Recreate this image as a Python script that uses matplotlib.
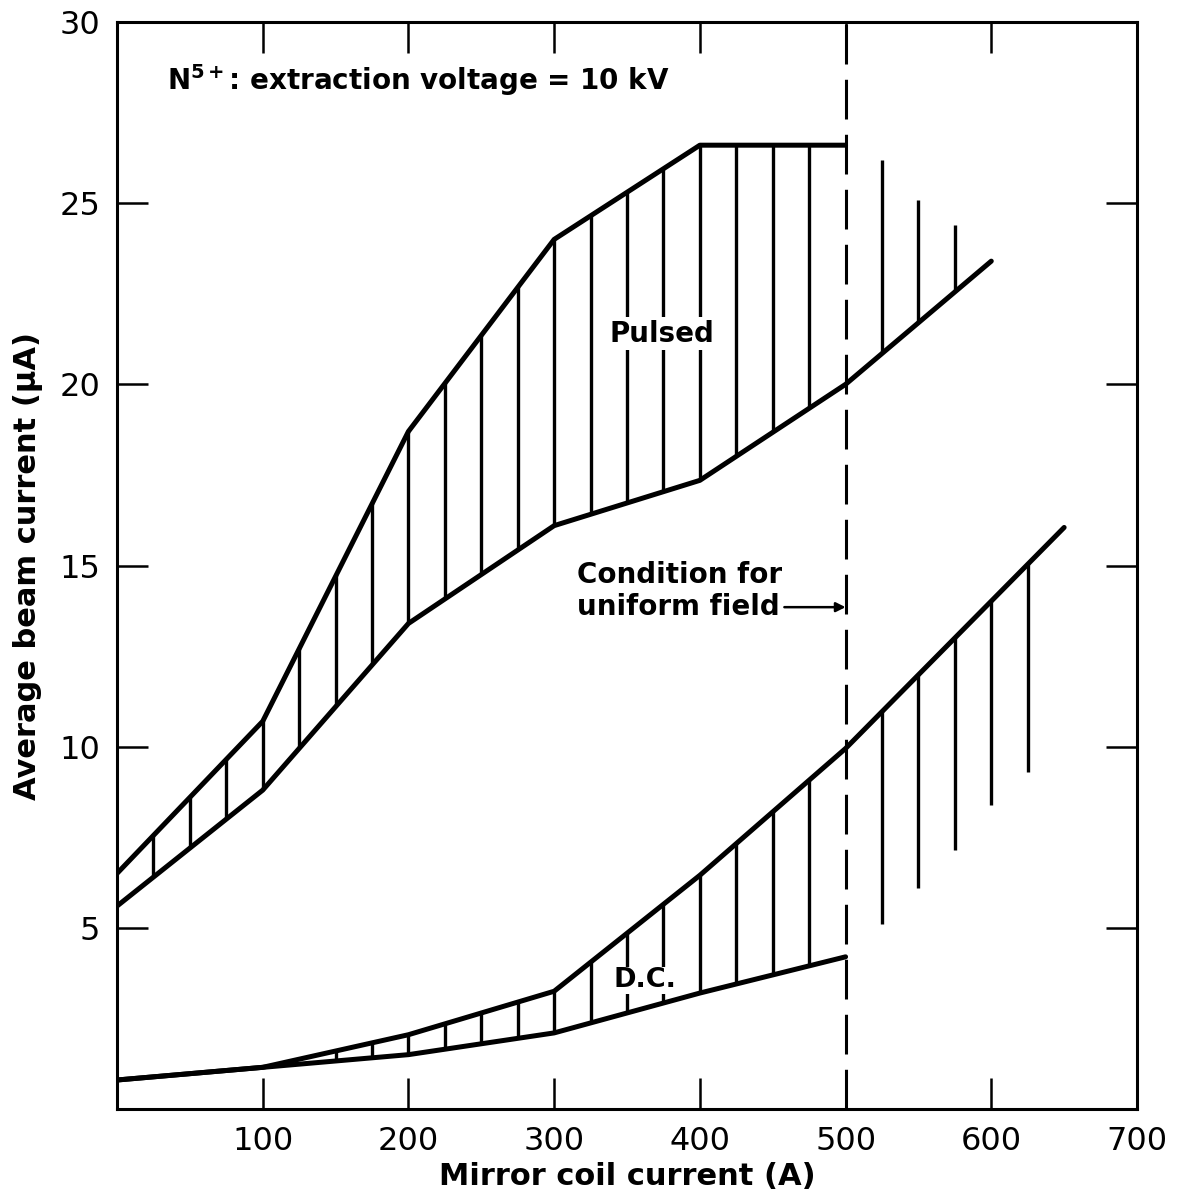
import numpy as np
import matplotlib
matplotlib.use("Agg")
import matplotlib.pyplot as plt
from matplotlib.path import Path
from matplotlib.collections import LineCollection

# ---- data ----
pulsed_upper_x = [0, 100, 200, 300, 400, 500]
pulsed_upper_y = [6.5, 10.7, 18.7, 24.0, 26.6, 26.6]
pulsed_lower_x = [0, 100, 200, 300, 400, 500, 600]
pulsed_lower_y = [5.6, 8.8, 13.4, 16.1, 17.35, 20.0, 23.4]

dc_upper_x = [0, 100, 200, 300, 400, 500, 650]
dc_upper_y = [0.8, 1.15, 2.05, 3.25, 6.45, 9.95, 16.05]
dc_lower_x = [0, 100, 200, 300, 400, 500]
dc_lower_y = [0.8, 1.15, 1.5, 2.1, 3.2, 4.2]

pulsed_hatch_x = list(range(25, 500, 25))
pulsed_extra_x = [525, 550, 575]
pulsed_extra_top = [26.2, 25.1, 24.4]

dc_hatch_x = list(range(150, 500, 25))
dc_extra_x = [525, 550, 575, 600, 625]
dc_extra_bottom = [5.1, 6.1, 7.15, 8.4, 9.3]

uniform_field_x = 500
xticks = [100, 200, 300, 400, 500, 600, 700]
yticks = [5, 10, 15, 20, 25, 30]

# ---- figure ----
W, H, DPI = 1177, 1201, 100
fig = plt.figure(figsize=(W / DPI, H / DPI), dpi=DPI)
ax = fig.add_axes([117 / W, 1 - 1109 / H, (1137 - 117) / W, (1109 - 22) / H])
ax.set_xlim(0, 700)
ax.set_ylim(0, 30)

LW_CURVE = 3.6
LW_HATCH = 2.4

for xs, ys in [(pulsed_upper_x, pulsed_upper_y), (pulsed_lower_x, pulsed_lower_y),
               (dc_upper_x, dc_upper_y), (dc_lower_x, dc_lower_y)]:
    ax.plot(xs, ys, color="black", lw=LW_CURVE, solid_capstyle="round",
            solid_joinstyle="round", zorder=3)


def band_path(ux, uy, lx, ly):
    verts = list(zip(ux, uy)) + list(zip(lx[::-1], ly[::-1]))
    return Path(verts + [verts[0]], closed=True)


def clipped_vlines(xs, y0s, y1s, clip):
    segs = [[(x, a), (x, b)] for x, a, b in zip(xs, y0s, y1s)]
    lc = LineCollection(segs, colors="black", linewidths=LW_HATCH, zorder=2)
    ax.add_collection(lc)
    lc.set_clip_path(clip, ax.transData)
    return lc


# pulsed band hatching
n = pulsed_upper_x.index(500)
m = pulsed_lower_x.index(500)
p_clip = band_path(pulsed_upper_x[:n + 1], pulsed_upper_y[:n + 1],
                   pulsed_lower_x[:m + 1], pulsed_lower_y[:m + 1])
clipped_vlines(pulsed_hatch_x, [0] * len(pulsed_hatch_x), [30] * len(pulsed_hatch_x), p_clip)

# pulsed lines beyond 500 (above lower curve)
above = band_path([500, 600], [30, 30], pulsed_lower_x[m:], pulsed_lower_y[m:])
clipped_vlines(pulsed_extra_x, [0] * 3, pulsed_extra_top, above)

# DC band hatching
n = dc_upper_x.index(500)
d_clip = band_path(dc_upper_x[:n + 1], dc_upper_y[:n + 1], dc_lower_x, dc_lower_y)
clipped_vlines(dc_hatch_x, [0] * len(dc_hatch_x), [30] * len(dc_hatch_x), d_clip)

# DC lines beyond 500 (below upper curve)
below = band_path(dc_upper_x[n:], dc_upper_y[n:], [500, 650], [0, 0])
clipped_vlines(dc_extra_x, dc_extra_bottom, [30] * len(dc_extra_x), below)

# dashed line for uniform-field condition
ax.axvline(uniform_field_x, color="black", lw=2.2, ls=(0, (13, 5)), zorder=2)

# ---- axes styling ----
for s in ax.spines.values():
    s.set_linewidth(2.2)
ax.set_xticks(xticks)
ax.set_yticks(yticks)
ax.tick_params(direction="in", length=22, width=1.8, top=True, right=True,
               labelsize=23, pad=12)
ax.set_xlabel("Mirror coil current (A)", fontsize=22, fontweight="bold", labelpad=4)
ax.set_ylabel("Average beam current (μA)", fontsize=22, fontweight="bold", labelpad=12)

# ---- annotations ----
ax.text(34, 28.4, r"N$^{\mathbf{5+}}$: extraction voltage = 10 kV", fontsize=20,
        fontweight="bold", ha="left", va="center")
ax.text(374, 21.4, "Pulsed", fontsize=20, fontweight="bold", ha="center", va="center",
        bbox=dict(facecolor="white", edgecolor="none", pad=2), zorder=4)
ax.text(362, 3.55, "D.C.", fontsize=19.5, fontweight="bold", ha="center", va="center",
        bbox=dict(facecolor="white", edgecolor="none", pad=0.5), zorder=4)
ax.text(316, 14.3, "Condition for\nuniform field", fontsize=20, fontweight="bold",
        ha="left", va="center", linespacing=1.2)
ax.annotate("", xy=(uniform_field_x, 13.85), xytext=(458, 13.85),
            arrowprops=dict(arrowstyle="-|>", color="black", lw=1.8, mutation_scale=14,
                            shrinkA=0, shrinkB=0))

fig.savefig("out.png", dpi=DPI)
